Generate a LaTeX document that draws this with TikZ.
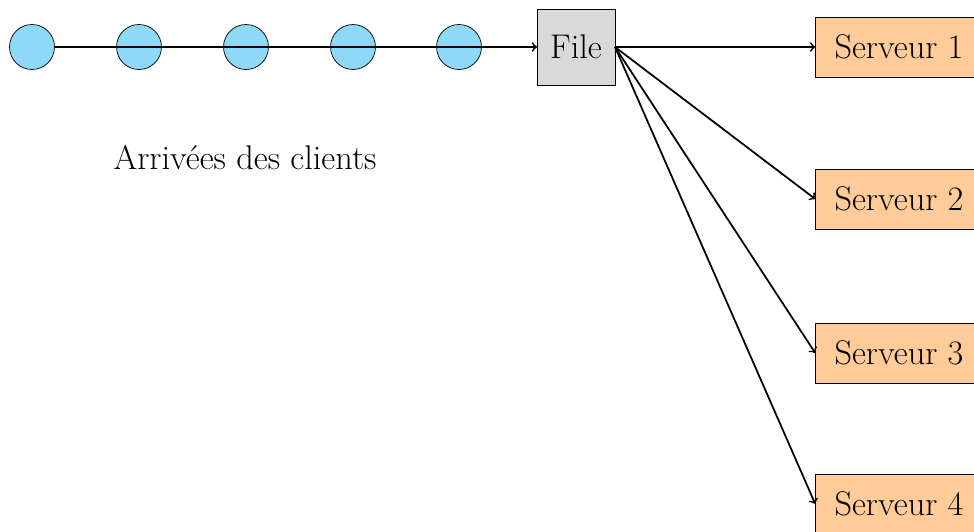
\documentclass[tikz,border=0pt]{standalone}
\usepackage{tikz}

\definecolor{client}{RGB}{142,216,248}
\definecolor{serveur}{RGB}{255,204,153}
\definecolor{file}{RGB}{217,217,217}

\begin{document}
\begin{tikzpicture}[x=0.02cm,y=-0.02cm,
  every node/.style={font=\fontsize{19.5}{23}\selectfont, outer sep=0pt},
  clientnode/.style={circle, draw, fill=client, minimum size=0.9cm, inner sep=0pt},
  filenode/.style={draw, fill=file, minimum width=1.56cm, minimum height=1.52cm},
  serveurnode/.style={draw, fill=serveur, minimum width=3.35cm, minimum height=1.2cm},
  fleche/.style={->, line width=1pt}]
\useasboundingbox (0,0) rectangle (974,531);
\clip (0,0) rectangle (974,531);

\node[clientnode] (c1) at (32,47) {};
\node[clientnode] (c2) at (139,47) {};
\node[clientnode] (c3) at (246,47) {};
\node[clientnode] (c4) at (353,47) {};
\node[clientnode] (c5) at (459,47) {};

\node[filenode] (file) at (576,47) {File};

\node[serveurnode] (s1) at (899,47) {Serveur 1};
\node[serveurnode] (s2) at (899,199) {Serveur 2};
\node[serveurnode] (s3) at (899,353) {Serveur 3};
\node[serveurnode] (s4) at (899,504) {Serveur 4};

\node (arrivees) at (245,158) {Arriv\'ees des clients};

\draw[fleche] (c1) -- (file);
\draw[fleche] (file.east) -- (s1.west);
\draw[fleche] (file.east) -- (s2.west);
\draw[fleche] (file.east) -- (s3.west);
\draw[fleche] (file.east) -- (s4.west);
\end{tikzpicture}
\end{document}
